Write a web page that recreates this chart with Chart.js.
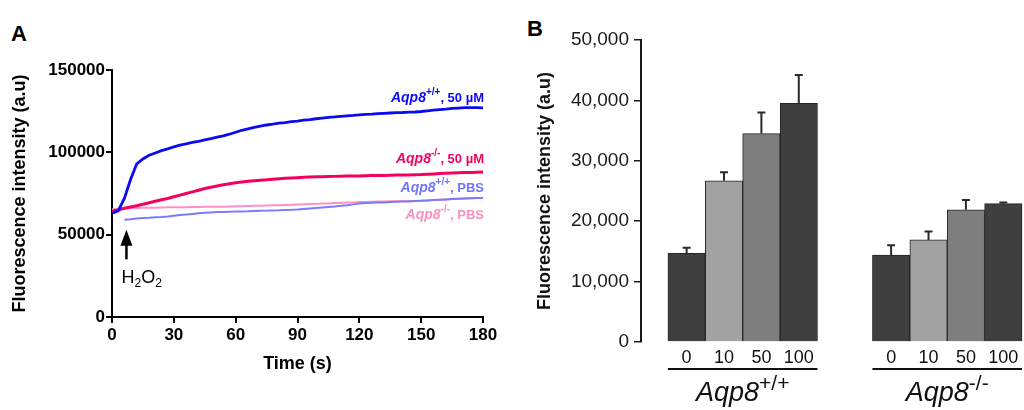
<!DOCTYPE html>
<html lang="en">
<head>
<meta charset="UTF-8">
<title>Aqp8 H2O2 fluorescence</title>
<script src="https://cdn.jsdelivr.net/npm/chart.js"></script>
<style>
    body {
        margin: 0;
        background: #fff;
        width: 1024px;
        height: 410px;
        position: relative;
        overflow: hidden;
        font-family: Arial, "Liberation Sans", sans-serif;
    }
    #chartA { position: absolute; left: 0; top: 0; }
    #chartB { position: absolute; left: 512px; top: 0; }
    .panel { position: absolute; font-weight: bold; font-size: 22px; color: #000; }
</style>
</head>
<body>
<div class="panel" style="left:11px; top:21px;">A</div>
<div class="panel" style="left:527px; top:16px;">B</div>
<canvas id="chartA" width="500" height="410"></canvas>
<canvas id="chartB" width="512" height="410"></canvas>

<script>
    // ---- Panel A: time course ----
    const seconds = [
        0, 3, 6, 9, 12, 15, 18, 21, 24, 27,
        30, 33, 36, 39, 42, 45, 48, 51, 54, 57,
        60, 63, 66, 69, 72, 75, 78, 81, 84, 87,
        90, 93, 96, 99, 102, 105, 108, 111, 114, 117,
        120, 123, 126, 129, 132, 135, 138, 141, 144, 147,
        150, 153, 156, 159, 162, 165, 168, 171, 174, 177,
        180
    ];
    const wt50 = [
        63000, 64500, 72000, 83500, 93000, 96000, 98200, 99600, 101000, 102100,
        103300, 104400, 105200, 106000, 106700, 107500, 108300, 109200, 110000, 111000,
        112200, 113400, 114300, 115100, 115900, 116600, 117100, 117700, 118100, 118600,
        119000, 119500, 119900, 120400, 120800, 121200, 121500, 121900, 122200, 122400,
        122700, 123000, 123200, 123500, 123700, 123900, 124100, 124200, 124400, 124500,
        124800, 125200, 125600, 126000, 126300, 126700, 126900, 127100, 127200, 127100,
        127000
    ];
    const ko50 = [
        64400, 65000, 66000, 66800, 67600, 68500, 69400, 70300, 71200, 72000,
        73000, 74000, 75000, 76000, 77000, 78000, 78800, 79600, 80300, 80900,
        81500, 82000, 82400, 82800, 83100, 83300, 83600, 83900, 84200, 84400,
        84600, 84800, 85000, 85100, 85200, 85300, 85400, 85500, 85600, 85600,
        85700, 85800, 85900, 86000, 86000, 86100, 86200, 86200, 86300, 86400,
        86500, 86700, 86900, 87100, 87300, 87500, 87600, 87700, 87800, 87900,
        88000
    ];
    const wtPBS = [
        null, null, 59000, 59300, 59800, 60100, 60300, 60600, 60800, 61100,
        61500, 61900, 62200, 62600, 63000, 63300, 63500, 63700, 63800, 63900,
        64000, 64100, 64200, 64400, 64500, 64600, 64700, 64800, 65000, 65100,
        65300, 65600, 65900, 66200, 66500, 66800, 67100, 67500, 67900, 68400,
        68900, 69200, 69400, 69500, 69600, 69800, 70000, 70100, 70200, 70400,
        70600, 70800, 71000, 71200, 71400, 71600, 71800, 72000, 72100, 72200,
        72300
    ];
    const koPBS = [
        65500, 65800, 66000, 66100, 66200, 66300, 66400, 66400, 66500, 66600,
        66600, 66700, 66700, 66800, 66800, 66900, 66900, 67000, 67000, 67100,
        67200, 67300, 67400, 67500, 67600, 67700, 67800, 67900, 68000, 68100,
        68300, 68400, 68600, 68700, 68900, 69000, 69200, 69300, 69500, 69600,
        69800, 69900, 70000, 70100, 70200, 70300, 70300, 70400, 70500, 70500,
        70600, 70800, 71000, 71200, 71400, 71600, 71800, 72000, 72100, 72200,
        72300
    ];
    const timeTicks = [0, 30, 60, 90, 120, 150, 180];
    const intensityTicksA = [0, 50000, 100000, 150000];

    // ---- Panel B: bar means and error (upper SEM) ----
    const doses = ['0', '10', '50', '100'];
    const genotypes = ['+/+', '-/-'];
    const meanWT = [14700, 26700, 34500, 39500];
    const errWT = [900, 1400, 3500, 4700];
    const meanKO = [14400, 16900, 21900, 22900];
    const errKO = [1600, 1400, 1600, 200];
    const intensityTicksB = [0, 10000, 20000, 30000, 40000, 50000];

    const FONT = 'Arial, "Liberation Sans", sans-serif';

    // draw a run of text pieces [text, font, rise] one after another
    function drawRich(ctx, parts, x, y, align) {
        let w = 0;
        parts.forEach(p => { ctx.font = p[1]; w += ctx.measureText(p[0]).width; });
        let cx = align === 'right' ? x - w : (align === 'center' ? x - w / 2 : x);
        ctx.textAlign = 'left';
        ctx.textBaseline = 'alphabetic';
        parts.forEach(p => {
            ctx.font = p[1];
            ctx.fillText(p[0], cx, y - (p[2] || 0));
            cx += ctx.measureText(p[0]).width;
        });
    }

    const toXY = arr => seconds.map((t, i) => ({ x: t, y: arr[i] }));

    // curve labels + H2O2 arrow
    const notesA = {
        id: 'notesA',
        afterDatasetsDraw(chart) {
            const ctx = chart.ctx;
            const xs = chart.scales.x, ys = chart.scales.y;
            const right = xs.getPixelForValue(180) + 1;
            const labels = [
                { color: '#0a0af0', sup: '+/+', tail: ', 50 µM', at: 130600 },
                { color: '#f5005f', sup: '-/-', tail: ', 50 µM', at: 93500 },
                { color: '#7373ff', sup: '+/+', tail: ', PBS', at: 75900 },
                { color: '#ff8ec0', sup: '-/-', tail: ', PBS', at: 59500 }
            ];
            ctx.save();
            labels.forEach(l => {
                ctx.fillStyle = l.color;
                drawRich(ctx, [
                    ['Aqp8', 'italic bold 14px ' + FONT, 0],
                    [l.sup, 'bold 10px ' + FONT, 7],
                    [l.tail, 'bold 13px ' + FONT, 0]
                ], right, ys.getPixelForValue(l.at), 'right');
            });

            // H2O2 addition arrow
            const ax = xs.getPixelForValue(7);
            const tip = ys.getPixelForValue(53000);
            const base = ys.getPixelForValue(35000);
            ctx.fillStyle = '#000';
            ctx.strokeStyle = '#000';
            ctx.lineWidth = 2.5;
            ctx.beginPath();
            ctx.moveTo(ax, tip + 10);
            ctx.lineTo(ax, base);
            ctx.stroke();
            ctx.beginPath();
            ctx.moveTo(ax, tip);
            ctx.lineTo(ax - 6, tip + 16);
            ctx.lineTo(ax + 6, tip + 16);
            ctx.closePath();
            ctx.fill();
            drawRich(ctx, [
                ['H', '18px ' + FONT, 0],
                ['2', '12px ' + FONT, -4],
                ['O', '18px ' + FONT, 0],
                ['2', '12px ' + FONT, -4]
            ], xs.getPixelForValue(4.6), ys.getPixelForValue(20500), 'left');
            ctx.restore();
        }
    };

    new Chart(document.getElementById('chartA'), {
        type: 'line',
        data: {
            datasets: [
                { data: toXY(wt50), borderColor: '#0a0af0', borderWidth: 2.8 },
                { data: toXY(ko50), borderColor: '#f5005f', borderWidth: 3 },
                { data: toXY(wtPBS), borderColor: '#7b7bff', borderWidth: 2 },
                { data: toXY(koPBS), borderColor: '#ff92c4', borderWidth: 2 }
            ]
        },
        options: {
            responsive: false,
            animation: false,
            devicePixelRatio: 1,
            layout: { padding: { left: 0, right: 17, top: 70, bottom: 0 } },
            elements: { point: { radius: 0 }, line: { tension: 0 } },
            plugins: { legend: { display: false }, tooltip: { enabled: false } },
            scales: {
                x: {
                    type: 'linear',
                    min: 0,
                    max: 180,
                    afterBuildTicks: s => { s.ticks = timeTicks.map(v => ({ value: v })); },
                    afterFit: s => { s.height = 93; },
                    border: { display: true, color: '#000', width: 2 },
                    grid: { drawOnChartArea: false, drawTicks: true, tickLength: 6, color: '#000', lineWidth: 2 },
                    ticks: { color: '#000', font: { family: FONT, size: 17, weight: 'bold' }, padding: 2,
                             maxRotation: 0, callback: v => String(v) },
                    title: { display: true, text: 'Time (s)', color: '#000',
                             font: { family: FONT, size: 18, weight: 'bold' }, padding: { top: 0, bottom: 35 } }
                },
                y: {
                    min: 0,
                    max: 150000,
                    afterBuildTicks: s => { s.ticks = intensityTicksA.map(v => ({ value: v })); },
                    afterFit: s => { s.width = 112; },
                    border: { display: true, color: '#000', width: 2 },
                    grid: { drawOnChartArea: false, drawTicks: true, tickLength: 6, color: '#000', lineWidth: 2 },
                    ticks: { color: '#000', font: { family: FONT, size: 17, weight: 'bold' }, padding: 1,
                             callback: v => String(v) },
                    title: { display: true, text: 'Fluorescence intensity (a.u)', color: '#000',
                             font: { family: FONT, size: 18, weight: 'bold' }, padding: { top: 9, bottom: 0 } }
                }
            }
        },
        plugins: [notesA]
    });

    // ---- Panel B ----
    const GROUP_GAP = 1.47;   // empty space between the two genotype groups, in bar widths
    const LEAD_GAP = 0.72;    // empty space between the y axis and the first bar
    const barX = [];
    const barY = [];
    const barErr = [];
    [meanWT, meanKO].forEach((means, g) => {
        means.forEach((m, j) => {
            barX.push(g * (doses.length + GROUP_GAP) + j);
            barY.push(m);
            barErr.push((g === 0 ? errWT : errKO)[j]);
        });
    });
    const shades = ['#3f3f3f', '#a2a2a2', '#7e7e7e', '#3f3f3f'];

    const notesB = {
        id: 'notesB',
        afterDatasetsDraw(chart) {
            const ctx = chart.ctx;
            const xs = chart.scales.x, ys = chart.scales.y;
            const meta = chart.getDatasetMeta(0);
            ctx.save();
            // error bars (upper only)
            ctx.strokeStyle = '#2a2a2a';
            ctx.lineWidth = 2;
            meta.data.forEach((bar, i) => {
                const top = ys.getPixelForValue(barY[i] + barErr[i]);
                ctx.beginPath();
                ctx.moveTo(bar.x, bar.y);
                ctx.lineTo(bar.x, top);
                ctx.moveTo(bar.x - 4, top);
                ctx.lineTo(bar.x + 4, top);
                ctx.stroke();
            });
            // group underline + genotype label
            genotypes.forEach((sup, g) => {
                const first = barX[g * doses.length];
                const last = barX[g * doses.length + doses.length - 1];
                const l = xs.getPixelForValue(first - 0.5);
                const r = xs.getPixelForValue(last + 0.5);
                ctx.strokeStyle = '#111';
                ctx.lineWidth = 2;
                ctx.beginPath();
                ctx.moveTo(l, 369);
                ctx.lineTo(r, 369);
                ctx.stroke();
                ctx.fillStyle = '#111';
                drawRich(ctx, [
                    ['Aqp8', 'italic 27px ' + FONT, 0],
                    [sup, '21px ' + FONT, 11]
                ], (l + r) / 2, 401, 'center');
            });
            ctx.restore();
        }
    };

    new Chart(document.getElementById('chartB'), {
        type: 'bar',
        data: {
            datasets: [{
                data: barX.map((x, i) => ({ x: x, y: barY[i] })),
                backgroundColor: barX.map((x, i) => shades[i % doses.length]),
                borderColor: '#262626',
                borderWidth: 1,
                barPercentage: 1,
                categoryPercentage: 1,
                clip: false
            }]
        },
        options: {
            responsive: false,
            animation: false,
            devicePixelRatio: 1,
            layout: { padding: { left: 0, right: 2, top: 40, bottom: 0 } },
            plugins: { legend: { display: false }, tooltip: { enabled: false } },
            scales: {
                x: {
                    type: 'linear',
                    min: barX[0] - 0.5 - LEAD_GAP,
                    max: barX[barX.length - 1] + 0.5,
                    offset: false,
                    afterBuildTicks: s => { s.ticks = barX.map(v => ({ value: v })); },
                    afterFit: s => { s.height = 68; },
                    border: { display: false },
                    grid: { display: false, drawTicks: false },
                    ticks: {
                        color: '#111',
                        autoSkip: false,
                        maxRotation: 0,
                        padding: 5,
                        font: { family: FONT, size: 18 },
                        callback: (v, i) => doses[i % doses.length]
                    }
                },
                y: {
                    min: 0,
                    max: 50000,
                    afterBuildTicks: s => { s.ticks = intensityTicksB.map(v => ({ value: v })); },
                    afterFit: s => { s.width = 129; },
                    border: { display: true, color: '#1a1a1a', width: 2 },
                    grid: { drawOnChartArea: false, drawTicks: true, tickLength: 7, color: '#1a1a1a', lineWidth: 1.5 },
                    ticks: {
                        color: '#1a1a1a',
                        padding: 5,
                        font: { family: FONT, size: 19 },
                        callback: v => v.toLocaleString('en-US')
                    },
                    title: { display: true, text: 'Fluorescence intensity (a.u)', color: '#111',
                             font: { family: FONT, size: 18, weight: 'bold' }, padding: { top: 22, bottom: 0 } }
                }
            }
        },
        plugins: [notesB]
    });
</script>
</body>
</html>
